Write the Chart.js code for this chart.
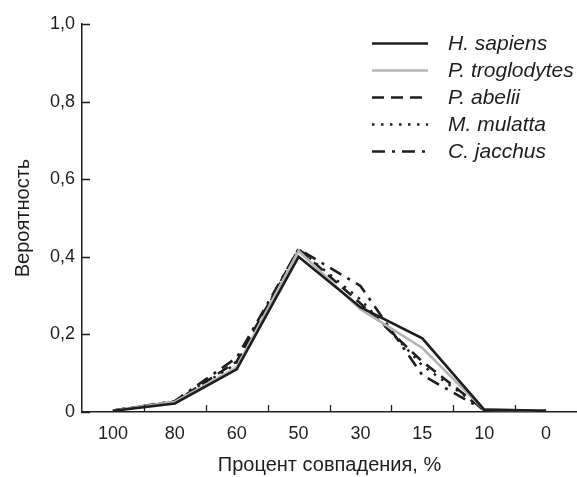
<!DOCTYPE html>
<html>
<head>
<meta charset="utf-8">
<script src="https://cdn.jsdelivr.net/npm/chart.js@4.4.1/dist/chart.umd.min.js"></script>
<style>
  html, body { margin: 0; padding: 0; background: #fff; }
  #wrap { width: 577px; height: 477px; }
</style>
</head>
<body>
<div id="wrap"><canvas id="myChart" width="577" height="477"></canvas></div>
<script>
const categories = ['100', '80', '60', '50', '30', '15', '10', '0'];
const yTicks = [0, 0.2, 0.4, 0.6, 0.8, 1.0];

const hSapiens     = [0.003, 0.022, 0.11, 0.40, 0.27, 0.19, 0.006, 0.003];
const pTroglodytes = [0.004, 0.026, 0.115, 0.415, 0.265, 0.165, 0.006, 0.003];
const pAbelii      = [0.004, 0.026, 0.13, 0.42, 0.28, 0.13, 0.005, 0.003];
const mMulatta     = [0.004, 0.026, 0.125, 0.42, 0.29, 0.12, 0.005, 0.003];
const cJacchus     = [0.004, 0.028, 0.14, 0.42, 0.325, 0.095, 0.005, 0.003];

const INK = '#1e1e1e';
const GRAY = '#b5b5b5';
const fontFamily = '"Liberation Sans", Arial, Helvetica, sans-serif';

const datasets = [
    { label: 'H. sapiens', data: hSapiens, borderColor: INK, borderWidth: 2.6, borderDash: [] },
    { label: 'P. troglodytes', data: pTroglodytes, borderColor: GRAY, borderWidth: 2.6, borderDash: [] },
    { label: 'P. abelii', data: pAbelii, borderColor: INK, borderWidth: 2.6, borderDash: [12, 7] },
    { label: 'M. mulatta', data: mMulatta, borderColor: INK, borderWidth: 2.4, borderDash: [2.5, 6.5] },
    { label: 'C. jacchus', data: cJacchus, borderColor: INK, borderWidth: 2.6, borderDash: [13, 7, 3, 7] },
].map(d => ({ ...d, fill: false, pointRadius: 0, tension: 0 }));

// inward tick marks + legend inside the plot
const decorPlugin = {
    id: 'decor',
    afterDraw(chart) {
        const ctx = chart.ctx;
        const x = chart.scales.x;
        const y = chart.scales.y;
        const area = chart.chartArea;
        ctx.save();
        ctx.strokeStyle = INK;
        ctx.lineWidth = 1.3;
        ctx.beginPath();
        yTicks.forEach(v => {
            const py = Math.round(y.getPixelForValue(v)) + 0.5;
            ctx.moveTo(area.left, py);
            ctx.lineTo(area.left + 8, py);
        });
        for (let i = 0; i < categories.length - 1; i++) {
            const px = Math.round((x.getPixelForValue(i) + x.getPixelForValue(i + 1)) / 2) + 0.5;
            ctx.moveTo(px, area.bottom);
            ctx.lineTo(px, area.bottom - 7);
        }
        ctx.stroke();

        // legend
        const lx0 = 372, lx1 = 428, tx = 448, top = 43, step = 27;
        ctx.font = 'italic 21px ' + fontFamily;
        ctx.textBaseline = 'middle';
        ctx.textAlign = 'left';
        chart.data.datasets.forEach((ds, i) => {
            const ly = Math.round(top + i * step) + 0.5;
            ctx.beginPath();
            ctx.strokeStyle = ds.borderColor;
            ctx.lineWidth = ds.borderWidth;
            ctx.setLineDash(ds.borderDash);
            ctx.moveTo(lx0, ly);
            ctx.lineTo(lx1, ly);
            ctx.stroke();
            ctx.setLineDash([]);
            ctx.fillStyle = INK;
            ctx.fillText(ds.label, tx, ly + 1);
        });
        ctx.restore();
    }
};

const ctx = document.getElementById('myChart').getContext('2d');
new Chart(ctx, {
    type: 'line',
    data: { labels: categories, datasets: datasets },
    plugins: [decorPlugin],
    options: {
        responsive: false,
        animation: false,
        devicePixelRatio: 1,
        layout: { padding: { top: 24, right: 0, bottom: 0, left: 0 } },
        plugins: { legend: { display: false }, tooltip: { enabled: false } },
        scales: {
            x: {
                type: 'category',
                offset: true,
                grid: { display: true, drawOnChartArea: false, drawTicks: false },
                border: { display: true, color: INK, width: 1.5 },
                ticks: { color: INK, padding: 11, font: { family: fontFamily, size: 18 } },
                title: {
                    display: true,
                    text: 'Процент совпадения, %',
                    color: INK,
                    font: { family: fontFamily, size: 20 },
                    padding: { top: 0, bottom: 0 }
                },
                afterFit(scale) { scale.height = 65; }
            },
            y: {
                min: 0,
                max: 1,
                grid: { display: true, drawOnChartArea: false, drawTicks: false },
                border: { display: true, color: INK, width: 1.5 },
                ticks: {
                    color: INK,
                    padding: 7,
                    stepSize: 0.2,
                    font: { family: fontFamily, size: 18 },
                    callback: v => v === 0 ? '0' : v.toFixed(1).replace('.', ',')
                },
                title: {
                    display: true,
                    text: 'Вероятность',
                    color: INK,
                    font: { family: fontFamily, size: 20 },
                    padding: { top: 11, bottom: 0 }
                },
                afterFit(scale) { scale.width = 82; }
            }
        }
    }
});
</script>
</body>
</html>
